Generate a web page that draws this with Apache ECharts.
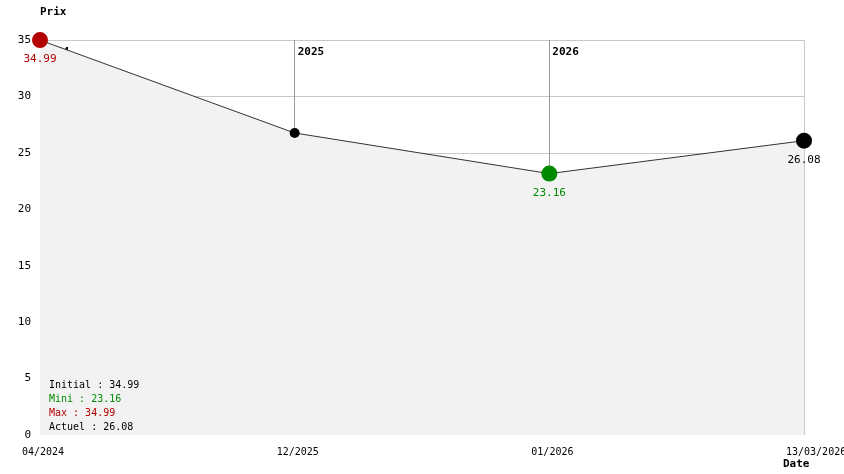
<!DOCTYPE html>
<html><head><meta charset="utf-8">
<script src="https://cdn.jsdelivr.net/npm/echarts@6/dist/echarts.min.js"></script>
<style>html,body{margin:0;padding:0;background:#fff}#c{width:844px;height:474px}</style>
</head><body><div id="c"></div>
<script>
const categories = ['04/2024', '12/2025', '01/2026', '13/03/2026'];
const yearLabels = ['2024', '2025', '2026', ''];
const prices = [34.99, 26.76, 23.16, 26.08];
const yTicks = [0, 5, 10, 15, 20, 25, 30, 35];
const stats = { initial: 34.99, mini: 23.16, max: 34.99, actuel: 26.08 };

const FONT = 'DejaVu Sans Mono';
const RED = '#b30000', GREEN = '#008a00', BLACK = '#000';

const pointStyles = [
  { size: 16, color: RED, label: true },
  { size: 10, color: BLACK, label: false },
  { size: 16, color: GREEN, label: true },
  { size: 16, color: BLACK, label: true }
];

const data = prices.map((v, i) => ({
  value: v,
  symbolSize: pointStyles[i].size,
  itemStyle: { color: pointStyles[i].color },
  label: {
    show: pointStyles[i].label, position: 'bottom', distance: 6,
    formatter: v.toFixed(2), color: pointStyles[i].color,
    fontFamily: FONT, fontSize: 11
  }
}));

const legendLines = [
  { text: 'Initial : ' + stats.initial.toFixed(2), color: BLACK },
  { text: 'Mini : ' + stats.mini.toFixed(2), color: GREEN },
  { text: 'Max : ' + stats.max.toFixed(2), color: RED },
  { text: 'Actuel : ' + stats.actuel.toFixed(2), color: BLACK }
];

const chart = echarts.init(document.getElementById('c'), null, { renderer: 'canvas' });
chart.setOption({
  animation: false,
  grid: { left: 40, right: 40, top: 40, bottom: 39, containLabel: false, outerBoundsMode: 'none' },
  xAxis: [{
    type: 'category', data: categories, boundaryGap: false, position: 'bottom',
    axisLine: { show: false }, axisTick: { show: false },
    axisLabel: { color: '#000', fontFamily: FONT, fontSize: 10, margin: 12, align: 'left', padding: [0, 0, 0, -18], hideOverlap: false },
    splitLine: { show: true, lineStyle: { color: ['#999', '#999', '#999', '#ccc'], width: 1 } },
    name: 'Date', nameLocation: 'end', nameGap: 0,
    nameTextStyle: { fontFamily: FONT, fontSize: 11, fontWeight: 'bold', color: '#000', align: 'left', verticalAlign: 'top', padding: [24, 0, 0, -21] }
  }, {
    type: 'category', data: yearLabels, boundaryGap: false, position: 'top',
    axisLine: { show: false }, axisTick: { show: false },
    axisLabel: { inside: true, color: '#000', fontFamily: FONT, fontSize: 11, fontWeight: 'bold', align: 'left', margin: 7, padding: [0, 0, 0, 3], verticalAlign: 'top' },
    splitLine: { show: false }
  }],
  yAxis: {
    type: 'value', min: 0, max: 35, interval: 5,
    axisLine: { show: false }, axisTick: { show: false },
    axisLabel: { color: '#000', fontFamily: FONT, fontSize: 11, margin: 9,
      formatter: v => yTicks.includes(v) ? String(v) : '' },
    splitLine: { show: true, lineStyle: { color: ['rgba(0,0,0,0)', '#c8c8c8', '#c8c8c8', '#c8c8c8', '#c8c8c8', '#c8c8c8', '#c8c8c8', '#c8c8c8'], width: 1 } },
    name: 'Prix', nameLocation: 'end', nameGap: 22,
    nameTextStyle: { fontFamily: FONT, fontSize: 11, fontWeight: 'bold', color: '#000', align: 'left' }
  },
  series: [{
    type: 'line', data: data, xAxisIndex: 0, symbol: 'circle',
    lineStyle: { color: '#333', width: 1 },
    areaStyle: { color: '#f2f2f2', opacity: 1 },
    z: 3
  }],
  graphic: legendLines.map((l, i) => ({
    type: 'text', x: 49, y: 380 + i * 14, z: 100,
    style: { text: l.text, fill: l.color, fontFamily: FONT, fontSize: 10 }
  }))
});
</script></body></html>
